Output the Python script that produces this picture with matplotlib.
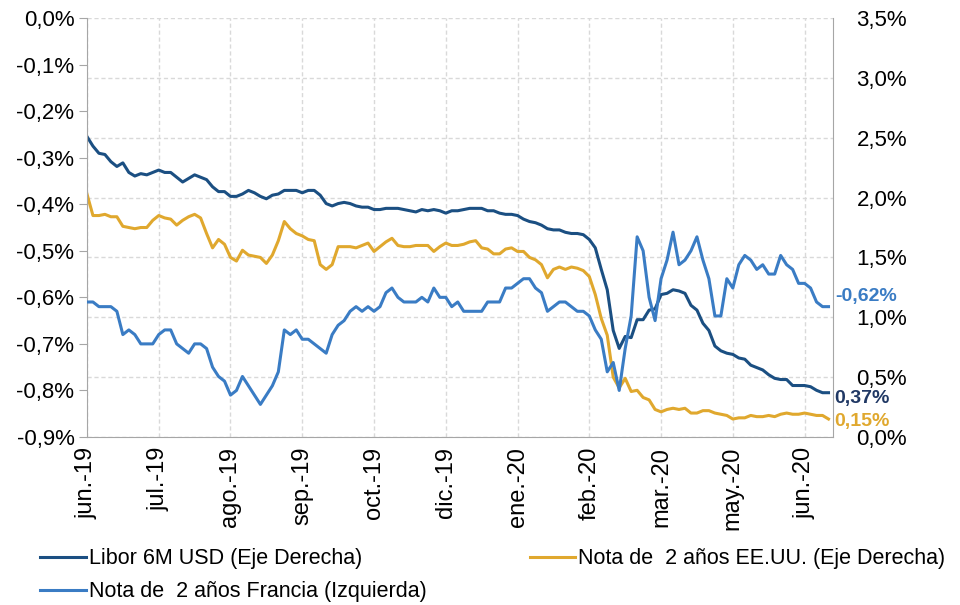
import matplotlib
matplotlib.use("Agg")
import matplotlib.pyplot as plt
from matplotlib.ticker import MultipleLocator, FuncFormatter

plt.rcParams['font.family'] = ['Liberation Sans', 'DejaVu Sans']

# series, one value every ~half week (12 points per month tick)
libor_usd = [2.51, 2.43, 2.37, 2.36, 2.30, 2.26, 2.29, 2.21, 2.18, 2.20,
             2.19, 2.21, 2.23, 2.21, 2.21, 2.17, 2.13, 2.16, 2.19, 2.17,
             2.15, 2.09, 2.05, 2.05, 2.01, 2.01, 2.03, 2.06, 2.04, 2.01,
             1.99, 2.02, 2.03, 2.06, 2.06, 2.06, 2.04, 2.06, 2.06, 2.02,
             1.95, 1.93, 1.95, 1.96, 1.95, 1.93, 1.92, 1.92, 1.90, 1.90,
             1.91, 1.91, 1.91, 1.90, 1.89, 1.88, 1.90, 1.89, 1.90, 1.89,
             1.87, 1.89, 1.89, 1.90, 1.91, 1.91, 1.91, 1.89, 1.89, 1.87,
             1.86, 1.86, 1.85, 1.82, 1.80, 1.79, 1.77, 1.74, 1.73, 1.73,
             1.71, 1.70, 1.70, 1.69, 1.65, 1.58, 1.40, 1.23, 0.89, 0.74,
             0.84, 0.83, 0.98, 0.98, 1.06, 1.07, 1.19, 1.20, 1.23, 1.22,
             1.20, 1.10, 1.06, 0.95, 0.89, 0.76, 0.72, 0.70, 0.69, 0.66,
             0.65, 0.60, 0.58, 0.56, 0.52, 0.49, 0.48, 0.48, 0.43, 0.43,
             0.43, 0.42, 0.39, 0.37, 0.37]

nota_eeuu = [2.03, 1.85, 1.85, 1.86, 1.84, 1.84, 1.76, 1.75, 1.74, 1.75,
             1.75, 1.81, 1.85, 1.83, 1.82, 1.77, 1.81, 1.84, 1.86, 1.83,
             1.70, 1.58, 1.65, 1.61, 1.50, 1.47, 1.56, 1.52, 1.51, 1.50,
             1.45, 1.52, 1.64, 1.80, 1.74, 1.70, 1.68, 1.65, 1.64, 1.44,
             1.40, 1.44, 1.59, 1.59, 1.59, 1.58, 1.60, 1.62, 1.55, 1.59,
             1.63, 1.66, 1.60, 1.59, 1.59, 1.60, 1.60, 1.60, 1.55, 1.59,
             1.62, 1.60, 1.60, 1.61, 1.63, 1.64, 1.58, 1.57, 1.53, 1.53,
             1.57, 1.58, 1.55, 1.55, 1.50, 1.48, 1.44, 1.33, 1.40, 1.42,
             1.40, 1.42, 1.41, 1.39, 1.34, 1.19, 0.99, 0.85, 0.50, 0.41,
             0.49, 0.38, 0.39, 0.33, 0.31, 0.23, 0.21, 0.23, 0.24, 0.23,
             0.24, 0.20, 0.20, 0.22, 0.22, 0.20, 0.19, 0.18, 0.15, 0.16,
             0.16, 0.18, 0.17, 0.17, 0.18, 0.17, 0.19, 0.20, 0.19, 0.19,
             0.20, 0.19, 0.18, 0.18, 0.15]

nota_francia = [-0.61, -0.61, -0.62, -0.62, -0.62, -0.63, -0.68, -0.67, -0.68, -0.70,
                -0.70, -0.70, -0.68, -0.67, -0.67, -0.70, -0.71, -0.72, -0.70, -0.70,
                -0.71, -0.75, -0.77, -0.78, -0.81, -0.80, -0.77, -0.79, -0.81, -0.83,
                -0.81, -0.79, -0.76, -0.67, -0.68, -0.67, -0.69, -0.69, -0.70, -0.71,
                -0.72, -0.68, -0.66, -0.65, -0.63, -0.62, -0.63, -0.62, -0.63, -0.62,
                -0.59, -0.58, -0.60, -0.61, -0.61, -0.61, -0.60, -0.61, -0.58, -0.60,
                -0.60, -0.62, -0.61, -0.63, -0.63, -0.63, -0.63, -0.61, -0.61, -0.61,
                -0.58, -0.58, -0.57, -0.56, -0.56, -0.58, -0.59, -0.63, -0.62, -0.61,
                -0.61, -0.62, -0.63, -0.63, -0.64, -0.67, -0.69, -0.76, -0.74, -0.80,
                -0.71, -0.64, -0.47, -0.50, -0.60, -0.65, -0.56, -0.52, -0.46, -0.53,
                -0.52, -0.50, -0.47, -0.52, -0.56, -0.64, -0.64, -0.56, -0.58, -0.53,
                -0.51, -0.52, -0.54, -0.53, -0.55, -0.55, -0.51, -0.53, -0.54, -0.57,
                -0.57, -0.58, -0.61, -0.62, -0.62]

mes_labels = ['jun.-19', 'jul.-19', 'ago.-19', 'sep.-19', 'oct.-19', 'dic.-19',
              'ene.-20', 'feb.-20', 'mar.-20', 'may.-20', 'jun.-20']
pts_per_tick = 12

c_libor = '#1b4f82'
c_eeuu = '#e0a82e'
c_fr = '#3a7cc4'
gris = '#a6a6a6'

x = list(range(len(libor_usd)))

fig = plt.figure(figsize=(9.6, 6.05), dpi=100)
ax = fig.add_axes([0.0906, 0.2777, 0.7771, 0.6925])
ax2 = ax.twinx()
ax.yaxis.tick_right()
ax2.yaxis.tick_left()

# right axis (Libor / US note) - grid lives here so it stays under every line
l1, = ax.plot(x, libor_usd, color=c_libor, lw=2.2)
l2, = ax.plot(x, nota_eeuu, color=c_eeuu, lw=2.2)
ax.set_ylim(0, 3.5)
ax.yaxis.set_major_locator(MultipleLocator(0.5))
ax.set_xlim(0, 124.75)
ax.set_xticks([i * pts_per_tick for i in range(len(mes_labels))])
ax.set_xticklabels(mes_labels, rotation=90)
ax.grid(True, color='#d9d9d9', linestyle=(0, (3, 2)), linewidth=1)
ax.set_axisbelow(True)

# left axis (France)
l3, = ax2.plot(x, nota_francia, color=c_fr, lw=2.2)
ax2.set_ylim(-0.9, 0)
ax2.yaxis.set_major_locator(MultipleLocator(0.1))

pct = lambda v, p: (f"{v:.1f}%" if abs(v) > 1e-9 else "0,0%").replace('.', ',')
ax.yaxis.set_major_formatter(FuncFormatter(pct))
ax2.yaxis.set_major_formatter(FuncFormatter(pct))

ax.tick_params(axis='y', length=0, pad=17, labelsize=16)
ax.tick_params(axis='x', length=0, pad=7, labelsize=17)
ax2.tick_params(axis='y', length=6, color=gris, pad=3, labelsize=16)

for s in ['left', 'right', 'bottom']:
    ax.spines[s].set_color(gris)
ax.spines['top'].set_visible(False)
for s in ax2.spines.values():
    s.set_visible(False)

# end-of-line labels
ax2.annotate('-0,62%', xy=(x[-1], nota_francia[-1]), xytext=(5, 7), textcoords='offset points',
             color=c_fr, fontsize=14, fontweight='bold', va='center', annotation_clip=False)
ax.annotate('0,37%', xy=(x[-1], libor_usd[-1]), xytext=(4, -4), textcoords='offset points',
            color='#203864', fontsize=14, fontweight='bold', va='center', annotation_clip=False)
ax.annotate('0,15%', xy=(x[-1], nota_eeuu[-1]), xytext=(4, -2), textcoords='offset points',
            color=c_eeuu, fontsize=14, fontweight='bold', va='center', annotation_clip=False)

fig.legend([l1, l3, l2],
           ['Libor 6M USD (Eje Derecha)', 'Nota de  2 años Francia (Izquierda)',
            'Nota de  2 años EE.UU. (Eje Derecha)'],
           ncol=2, loc='upper left', bbox_to_anchor=(0.042, 0.0934), frameon=False,
           borderpad=0, borderaxespad=0, handlelength=2.1, handletextpad=0.15,
           columnspacing=4.8, labelspacing=0.55, fontsize=15.5)

fig.savefig('out.png', dpi=100)
